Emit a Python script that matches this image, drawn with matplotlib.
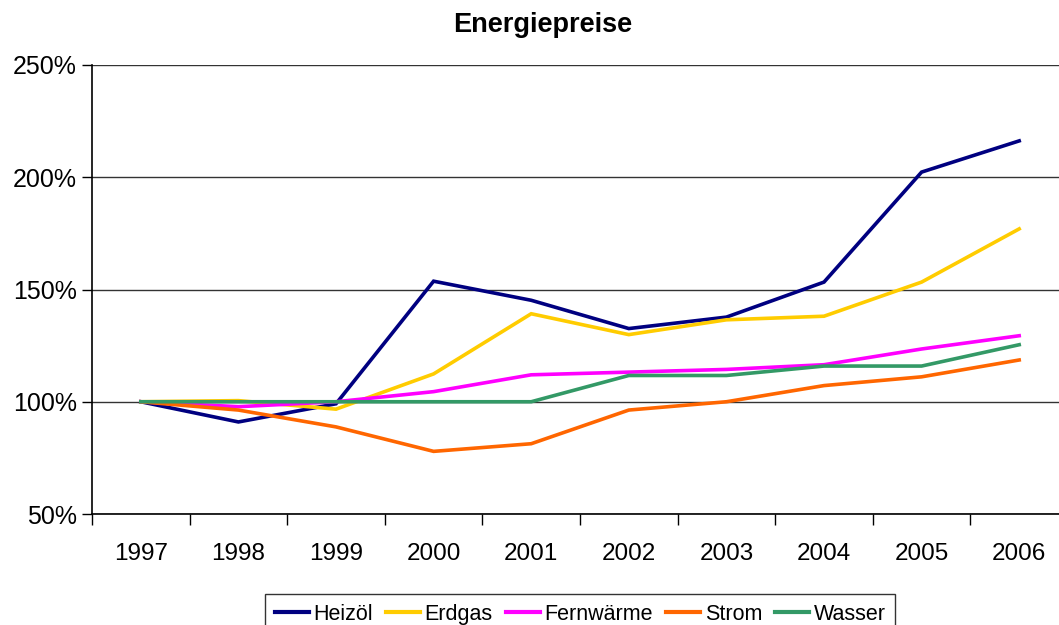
import matplotlib.pyplot as plt
from matplotlib.ticker import FuncFormatter

# Energiepreise, index 1997 = 100%
years = ['1997', '1998', '1999', '2000', '2001', '2002', '2003', '2004', '2005', '2006']
heizoel = [100, 91.0, 99.1, 153.7, 145.2, 132.6, 137.7, 153.3, 202.3, 216.2]
erdgas = [100, 100.5, 96.7, 112.4, 139.2, 129.9, 136.5, 138.1, 153.3, 177.0]
fernwaerme = [100, 97.8, 100, 104.5, 112.0, 113.2, 114.4, 116.5, 123.5, 129.4]
strom = [100, 96.3, 88.8, 77.9, 81.3, 96.3, 100, 107.2, 111.1, 118.6]
wasser = [100, 100, 100, 100, 100, 111.7, 111.7, 115.9, 115.9, 125.4]

names = ['Heizöl', 'Erdgas', 'Fernwärme', 'Strom', 'Wasser']
colors = ['#000080', '#FFCC00', '#FF00FF', '#FF6600', '#339966']

plt.rcParams['font.family'] = ['Liberation Sans', 'DejaVu Sans']

fig = plt.figure(figsize=(10.59, 6.25), dpi=100)
# plot area runs past the right edge, like the cropped original
ax = fig.add_axes([92/1059, 1-514/625, 976/1059, 449/625])

x = range(len(years))
for vals, name, col in zip([heizoel, erdgas, fernwaerme, strom, wasser], names, colors):
    ax.plot(x, vals, color=col, linewidth=2.6, label=name, solid_joinstyle='miter')

ax.set_xlim(-0.5, 9.5)
ax.set_ylim(50, 250)
ax.set_yticks([50, 100, 150, 200, 250])
ax.yaxis.set_major_formatter(FuncFormatter(lambda v, p: '%d%%' % v))
ax.grid(axis='y', color='#333333', linewidth=1.0)
ax.set_axisbelow(True)

# category ticks between the years, labels centred
ax.set_xticks([i - 0.5 for i in range(len(years) + 1)])
ax.set_xticklabels([])
ax.set_xticks(list(x), minor=True)
ax.set_xticklabels(years, minor=True)
ax.tick_params(axis='x', which='major', direction='out', length=8, width=1)
ax.tick_params(axis='x', which='minor', length=0, pad=21, labelsize=17.5)
ax.tick_params(axis='y', direction='out', length=7, width=1, labelsize=18, pad=4)

ax.spines['top'].set_visible(False)
ax.spines['right'].set_visible(False)
ax.spines['left'].set_linewidth(1.2)
ax.spines['bottom'].set_linewidth(1.2)

fig.text(543/1059, 1-25/625, 'Energiepreise', ha='center', va='center',
         fontsize=19.5, fontweight='bold')

leg = fig.legend(loc='upper left', bbox_to_anchor=(265/1059, 1-594/625), ncol=5,
                 fontsize=15.5, frameon=True, fancybox=False, handlelength=1.6,
                 handletextpad=0.2, columnspacing=0.6, borderpad=0.45, borderaxespad=0)
leg.get_frame().set_edgecolor('black')
leg.get_frame().set_linewidth(1.0)
for line in leg.get_lines():
    line.set_linewidth(3)

fig.savefig('out.png', dpi=100)
